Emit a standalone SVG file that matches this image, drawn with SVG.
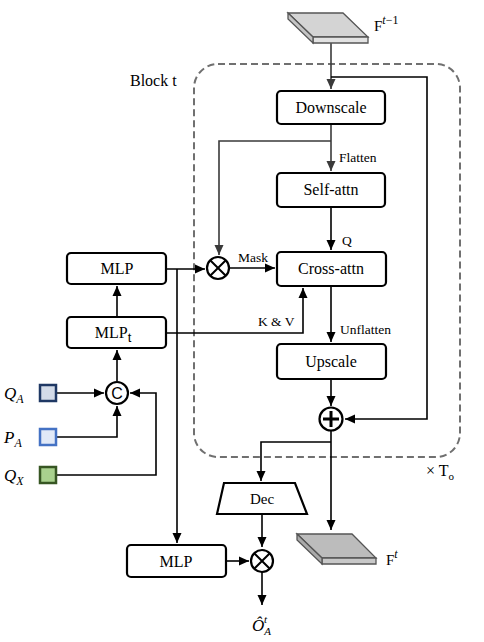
<svg xmlns="http://www.w3.org/2000/svg" width="484" height="642" viewBox="0 0 484 642">
<defs>
<marker id="ah" markerUnits="userSpaceOnUse" markerWidth="10" markerHeight="10" viewBox="0 0 10 10" refX="10" refY="5" orient="auto">
<path d="M0,0.5 L10,5 L0,9.5 Z" fill="#000"/>
</marker>
<marker id="ahg" markerUnits="userSpaceOnUse" markerWidth="10" markerHeight="10" viewBox="0 0 10 10" refX="10" refY="5" orient="auto">
<path d="M0,0.5 L10,5 L0,9.5 Z" fill="#3a3a3a"/>
</marker>
<style>
.box{fill:#fff;stroke:#000;stroke-width:2.2}
.t{font-family:"Liberation Serif","DejaVu Serif",serif;fill:#000;text-anchor:middle}
.bt{font-size:16px}
.lb{font-size:13.5px;text-anchor:start}
.c{fill:none;stroke:#000;stroke-width:1.6}
.cg{fill:none;stroke:#3a3a3a;stroke-width:1.6}
.op{fill:#fff;stroke:#000;stroke-width:2.2}
.it{font-family:"Liberation Serif","DejaVu Serif",serif;font-style:italic;font-size:17px}
</style>
</defs>
<rect x="0" y="0" width="484" height="642" fill="#fff"/>

<g id="block">
<rect x="194" y="64" width="266" height="393" rx="24" ry="24" fill="none" stroke="#707070" stroke-width="2" stroke-dasharray="7,4"/>
<text x="130" y="86" font-family="Liberation Serif,serif" font-size="16" fill="#000">Block t</text>
<text x="426" y="476" font-family="Liberation Serif,serif" font-size="16" fill="#000">× T<tspan font-size="11" dy="4">o</tspan></text>
</g>

<g id="connectors">
<path class="cg" d="M331,43 V89" marker-end="url(#ahg)"/>
<path class="c" d="M331,77 H427 V419 H345" marker-end="url(#ah)"/>
<path class="cg" d="M331,124 V171" marker-end="url(#ahg)"/>
<path class="cg" d="M331,141 H219 V255" marker-end="url(#ahg)"/>
<path class="c" d="M331,207 V250" marker-end="url(#ah)"/>
<path class="c" d="M230,268 H275" marker-end="url(#ah)"/>
<path class="c" d="M331,286 V342" marker-end="url(#ah)"/>
<path class="c" d="M331,379 V406" marker-end="url(#ah)"/>
<path class="c" d="M331,431 V530" marker-end="url(#ah)"/>
<path class="c" d="M331,442 H261 V481" marker-end="url(#ah)"/>
<path class="c" d="M262,514 V547" marker-end="url(#ah)"/>
<path class="c" d="M262,572 V605" marker-end="url(#ah)"/>
<path class="c" d="M226,561 H249" marker-end="url(#ah)"/>
<path class="c" d="M166,269 H205" marker-end="url(#ah)"/>
<path class="c" d="M177,269 V543" marker-end="url(#ah)"/>
<path class="c" d="M166,333 H303 V288" marker-end="url(#ah)"/>
<path class="c" d="M117,317 V286" marker-end="url(#ah)"/>
<path class="c" d="M117,381 V350" marker-end="url(#ah)"/>
<path class="c" d="M57,393 H104" marker-end="url(#ah)"/>
<path class="c" d="M57,437 H117 V406" marker-end="url(#ah)"/>
<path class="c" d="M57,475 H156 V393 H130" marker-end="url(#ah)"/>
<text class="t lb" x="339" y="162">Flatten</text>
<text class="t lb" x="342" y="245">Q</text>
<text class="t lb" x="238" y="262">Mask</text>
<text class="t lb" x="258" y="326">K &amp; V</text>
<text class="t lb" x="340" y="334">Unflatten</text>
</g>

<g id="f_prev">
<path d="M288,13 L343,13 L368,37 L313,37 Z" fill="#d4d4d4" stroke="#555" stroke-width="1.3"/>
<path d="M313,37 L368,37 L368,43 L313,43 Z" fill="#e2e2e2" stroke="#555" stroke-width="1.3"/>
<path d="M288,13 L313,37 L313,43 L288,19 Z" fill="#c4c4c4" stroke="#555" stroke-width="1.3"/>
<text x="374" y="31" font-family="Liberation Serif,serif" font-size="15">F<tspan font-size="12" dy="-7" font-style="italic">t</tspan><tspan font-size="12">−1</tspan></text>
</g>

<g id="downscale"><rect class="box" x="277" y="91" width="108" height="33" rx="4"/><text class="t bt" x="331" y="113">Downscale</text></g>
<g id="selfattn"><rect class="box" x="277" y="173" width="108" height="34" rx="4"/><text class="t bt" x="331" y="195">Self-attn</text></g>
<g id="crossattn"><rect class="box" x="277" y="252" width="109" height="34" rx="4"/><text class="t bt" x="331" y="274">Cross-attn</text></g>
<g id="upscale"><rect class="box" x="277" y="344" width="109" height="35" rx="4"/><text class="t bt" x="331" y="367">Upscale</text></g>

<g id="mask_mul"><circle class="op" cx="218" cy="268" r="11"/><path d="M210.2,260.2 L225.8,275.8 M225.8,260.2 L210.2,275.8" stroke="#000" stroke-width="2"/></g>
<g id="add"><circle class="op" cx="331" cy="419" r="11.5"/><path d="M331,411 V427 M323,419 H339" stroke="#000" stroke-width="3"/></g>

<g id="mlp_top"><rect class="box" x="67" y="253" width="99" height="31" rx="4"/><text class="t bt" x="117" y="274">MLP</text></g>
<g id="mlp_t"><rect class="box" x="67" y="317" width="99" height="31" rx="4"/><text class="t bt" x="113" y="338">MLP<tspan font-family="Liberation Sans,sans-serif" font-size="13" dy="4">t</tspan></text></g>
<g id="concat"><circle class="op" cx="117" cy="393" r="11"/><text x="117" y="399" font-family="Liberation Sans,Arial,sans-serif" font-size="16" text-anchor="middle">C</text></g>

<g id="qa"><rect x="40" y="385" width="16" height="16" fill="#d3dbe8" stroke="#1f3864" stroke-width="2.5"/><text class="it" x="4" y="399">Q<tspan font-size="12" dy="4">A</tspan></text></g>
<g id="pa"><rect x="40" y="429" width="16" height="16" fill="#e1e9f7" stroke="#4472c4" stroke-width="2.5"/><text class="it" x="4" y="443">P<tspan font-size="12" dy="4">A</tspan></text></g>
<g id="qx"><rect x="40" y="467" width="16" height="16" fill="#a9d18e" stroke="#375623" stroke-width="2.5"/><text class="it" x="4" y="481">Q<tspan font-size="12" dy="4">X</tspan></text></g>

<g id="dec"><path class="box" d="M224,483 L295,483 L307,514 L217,514 Z"/><text class="t" font-size="15" x="262" y="504">Dec</text></g>
<g id="out_mul"><circle class="op" cx="262" cy="561" r="11"/><path d="M254.2,553.2 L269.8,568.8 M269.8,553.2 L254.2,568.8" stroke="#000" stroke-width="2"/></g>
<g id="mlp_bottom"><rect class="box" x="127" y="545" width="99" height="32" rx="4"/><text class="t bt" x="176" y="567">MLP</text></g>

<g id="f_t">
<path d="M297,534 L352,534 L376,558 L322,558 Z" fill="#bcbcbc" stroke="#555" stroke-width="1.3"/>
<path d="M322,558 L376,558 L376,564 L322,564 Z" fill="#c8c8c8" stroke="#555" stroke-width="1.3"/>
<path d="M297,534 L322,558 L322,564 L297,540 Z" fill="#aaaaaa" stroke="#555" stroke-width="1.3"/>
<text x="386" y="565" font-family="Liberation Serif,serif" font-size="15">F<tspan font-size="12" dy="-7" font-style="italic">t</tspan></text>
</g>

<g id="output_label"><text class="it" x="252" y="631">Ô<tspan font-size="11" dy="4">A</tspan><tspan font-size="11" dx="-7" dy="-12">t</tspan></text></g>
</svg>
